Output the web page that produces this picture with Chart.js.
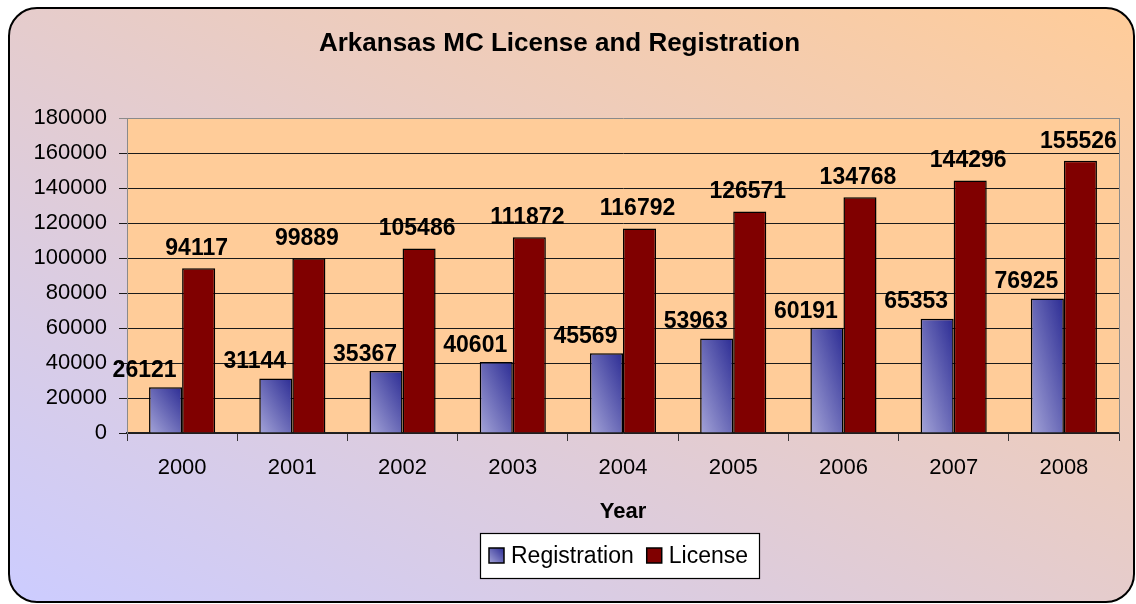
<!DOCTYPE html>
<html>
<head>
<meta charset="utf-8">
<script src="https://cdn.jsdelivr.net/npm/chart.js@4.4.1/dist/chart.umd.min.js"></script>
<style>
  html, body { margin: 0; padding: 0; background: #fff; }
  canvas { display: block; }
</style>
</head>
<body>
<canvas id="mcChart" width="1136" height="604"></canvas>
<script>
// data
const years = ['2000', '2001', '2002', '2003', '2004', '2005', '2006', '2007', '2008'];
const registration = [26121, 31144, 35367, 40601, 45569, 53963, 60191, 65353, 76925];
const license = [94117, 99889, 105486, 111872, 116792, 126571, 134768, 144296, 155526];
const yTicks = [0, 20000, 40000, 60000, 80000, 100000, 120000, 140000, 160000, 180000];

const FONT = '"Liberation Sans", Arial, sans-serif';

// Excel-style diagonal gradient: iso-lines follow the box's anti-diagonal
function boxGradient(ctx, left, top, right, bottom, c0, c1) {
    const w = right - left, h = bottom - top;
    if (![left, top, right, bottom].every(Number.isFinite) || w <= 0 || h <= 0) return c0;
    const k = (2 * w * h) / (w * w + h * h);
    const g = ctx.createLinearGradient(left, bottom, left + h * k, bottom - w * k);
    g.addColorStop(0, c0);
    g.addColorStop(1, c1);
    return g;
}

function regFill(context) {
    const chart = context.chart;
    const xs = chart.scales.x, ys = chart.scales.y;
    if (!xs || !ys || context.dataIndex === undefined || !xs.width) return '#6666b3';
    const catW = xs.width / years.length;
    const barW = catW * 0.6 / 2;
    const cx = xs.getPixelForValue(context.dataIndex) - barW / 2;
    const top = ys.getPixelForValue(registration[context.dataIndex]);
    const base = ys.getPixelForValue(0);
    return boxGradient(chart.ctx, cx - barW / 2, top, cx + barW / 2, base, '#a4a4d8', '#2c2c94');
}

const backdrop = {
    id: 'backdrop',
    beforeDraw(chart) {
        const { ctx, chartArea: a } = chart;
        ctx.save();
        ctx.fillStyle = '#ffffff';
        ctx.fillRect(0, 0, chart.width, chart.height);
        const L = 9, T = 8, R = 1134, B = 602;
        ctx.beginPath();
        ctx.roundRect(L, T, R - L, B - T, 28);
        ctx.fillStyle = boxGradient(ctx, L, T, R, B, '#ccccff', '#ffcc99');
        ctx.fill();
        ctx.lineWidth = 2;
        ctx.strokeStyle = '#000';
        ctx.stroke();
        ctx.fillStyle = '#ffcc99';
        ctx.fillRect(a.left, a.top, a.right - a.left, a.bottom - a.top);
        ctx.restore();
    },
    afterDraw(chart) {
        const { ctx, chartArea: a } = chart;
        ctx.save();
        // right edge of the plot area
        ctx.strokeStyle = '#8a8a8a';
        ctx.lineWidth = 1;
        ctx.beginPath();
        ctx.moveTo(a.right + 0.5, a.top);
        ctx.lineTo(a.right + 0.5, a.bottom);
        ctx.stroke();

        // legend
        const items = chart.data.datasets.map((d, i) => ({ text: d.label, i }));
        ctx.font = '23px ' + FONT;
        const widths = items.map(it => ctx.measureText(it.text).width);
        const sq = 15, gapText = 7, gapItem = 13, padL = 9, padR = 11;
        const inner = widths.reduce((s, w) => s + sq + gapText + w, 0) + gapItem * (items.length - 1);
        const boxW = padL + inner + padR, boxH = 45;
        const boxL = Math.round((a.left + a.right) / 2 - 3 - boxW / 2), boxT = 533;
        ctx.fillStyle = '#fff';
        ctx.fillRect(boxL, boxT, boxW, boxH);
        ctx.strokeStyle = '#000';
        ctx.lineWidth = 1.2;
        ctx.strokeRect(boxL + 0.5, boxT + 0.5, boxW, boxH);
        let x = boxL + padL;
        const cy = boxT + boxH / 2;
        items.forEach((it, k) => {
            const sy = Math.round(cy - sq / 2);
            ctx.fillStyle = it.i === 0
                ? boxGradient(ctx, x, sy, x + sq, sy + sq, '#a4a4d8', '#2c2c94')
                : '#800000';
            ctx.fillRect(x, sy, sq, sq);
            ctx.lineWidth = 1.5;
            ctx.strokeStyle = '#000';
            ctx.strokeRect(x, sy, sq, sq);
            x += sq + gapText;
            ctx.fillStyle = '#000';
            ctx.textBaseline = 'middle';
            ctx.textAlign = 'left';
            ctx.fillText(it.text, x, cy + 1);
            x += widths[k] + gapItem;
        });
        ctx.restore();
    }
};

// value labels above the bars
const barLabels = {
    id: 'barLabels',
    afterDatasetsDraw(chart) {
        const { ctx } = chart;
        const shift = [[-21, 5], [-2, 8]];
        ctx.save();
        ctx.font = 'bold 23px ' + FONT;
        ctx.fillStyle = '#000';
        ctx.textAlign = 'center';
        ctx.textBaseline = 'bottom';
        chart.data.datasets.forEach((ds, di) => {
            chart.getDatasetMeta(di).data.forEach((bar, i) => {
                ctx.fillText(String(ds.data[i]), bar.x + shift[di][0], bar.y - shift[di][1]);
            });
        });
        ctx.restore();
    }
};

new Chart(document.getElementById('mcChart'), {
    type: 'bar',
    data: {
        labels: years,
        datasets: [
            { label: 'Registration', data: registration, backgroundColor: regFill, borderColor: '#000', borderWidth: 1.5 },
            { label: 'License', data: license, backgroundColor: '#800000', borderColor: '#000', borderWidth: 1.5 }
        ]
    },
    options: {
        responsive: false,
        animation: false,
        events: [],
        layout: { padding: { left: 0, right: 17, top: 0, bottom: 74 } },
        datasets: { bar: { categoryPercentage: 0.6, barPercentage: 1.0 } },
        plugins: {
            legend: { display: false },
            tooltip: { enabled: false },
            title: {
                display: true,
                text: 'Arkansas MC License and Registration',
                color: '#000',
                font: { family: FONT, size: 26, weight: 'bold' },
                padding: { top: 28, bottom: 58.8 }
            }
        },
        scales: {
            x: {
                afterFit: s => { s.height = 97; },
                grid: { display: true, drawOnChartArea: false, drawTicks: true, tickLength: 8, color: '#333', offset: true },
                border: { color: '#222', width: 1.5 },
                ticks: { color: '#000', font: { family: FONT, size: 22 }, padding: 14 },
                title: { display: true, text: 'Year', color: '#000', font: { family: FONT, size: 22, weight: 'bold' }, padding: { top: 0, bottom: 5 } }
            },
            y: {
                min: 0,
                max: 180000,
                afterFit: s => { s.width = 127; },
                afterBuildTicks: s => { s.ticks = yTicks.map(v => ({ value: v })); },
                grid: { color: c => (c.tick && c.tick.value === 180000 ? '#8a8a8a' : '#1a1a1a'), tickLength: 8, lineWidth: 1 },
                border: { color: '#8a8a8a', width: 1 },
                ticks: { color: '#000', font: { family: FONT, size: 22 }, padding: 12, callback: v => String(v) }
            }
        }
    },
    plugins: [backdrop, barLabels]
});
</script>
</body>
</html>
